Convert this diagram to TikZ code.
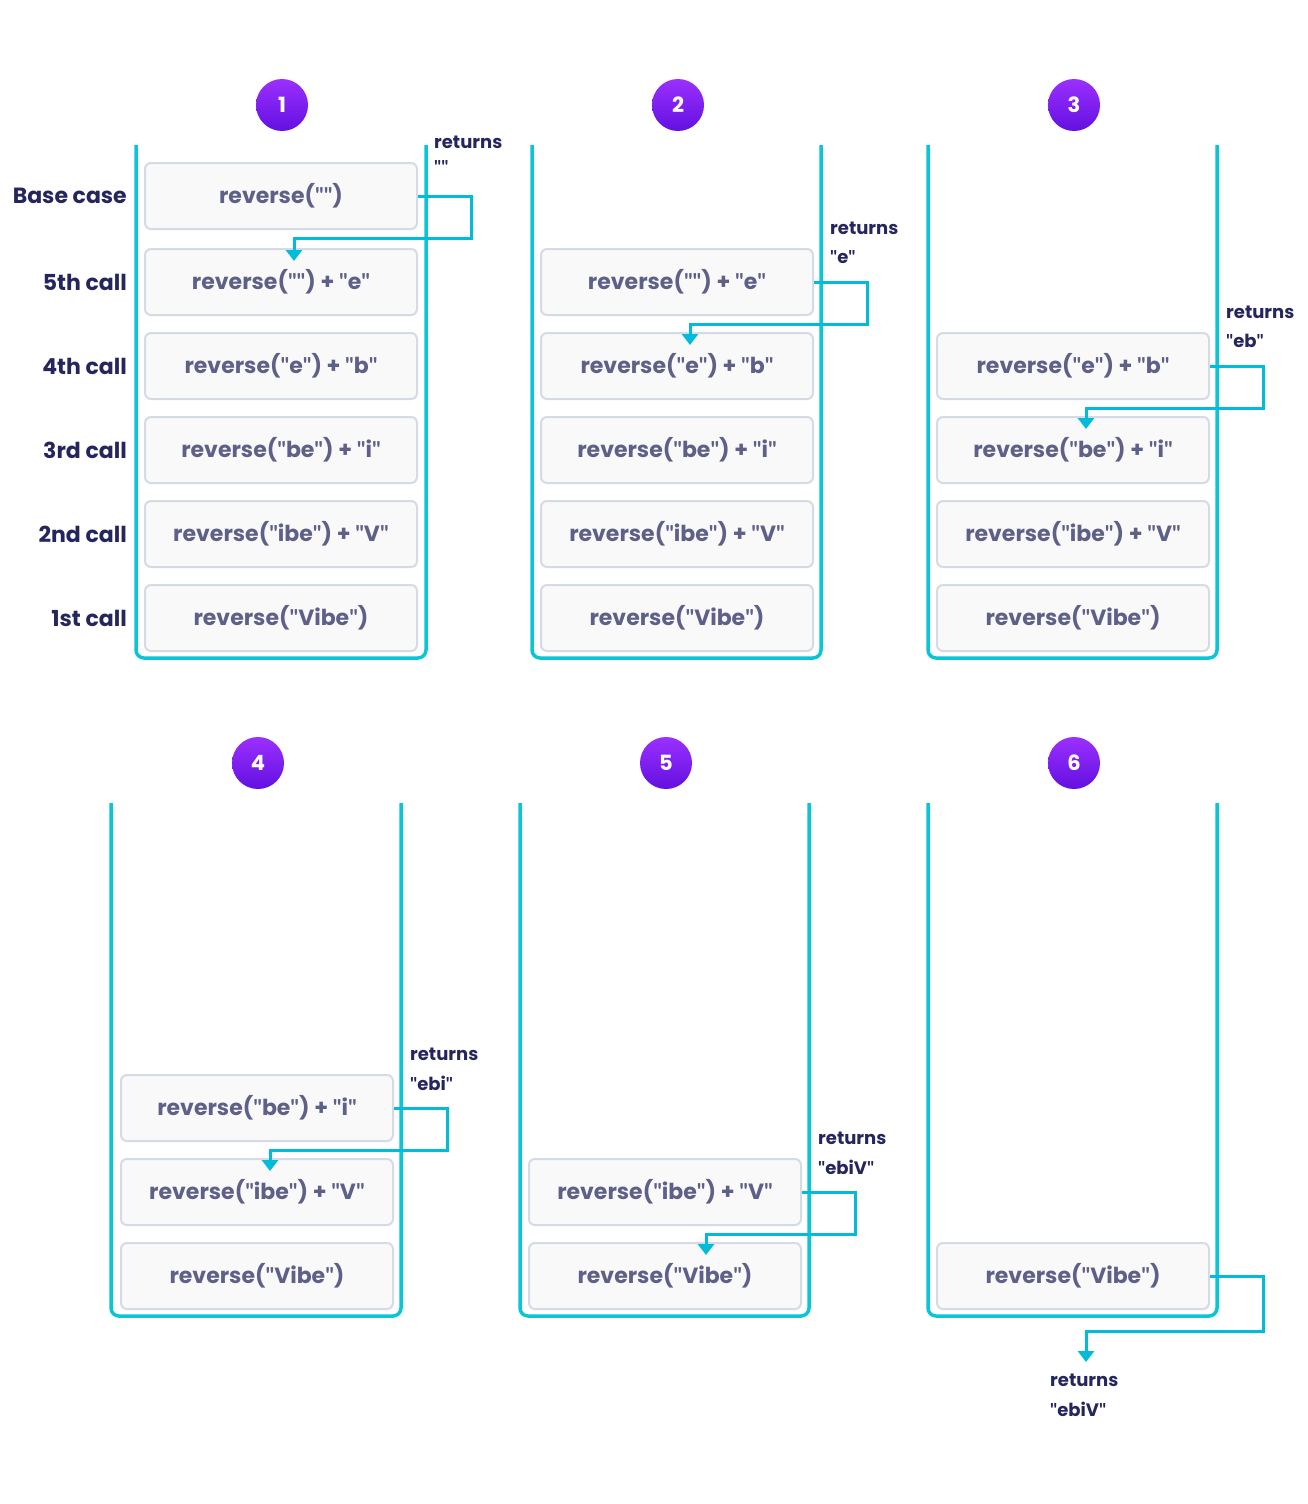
\documentclass[tikz,border=0pt]{standalone}
\usepackage{fontspec}
\setmainfont{Poppins}
\newfontfamily\quotefont{Lato}
\newcommand\Q{{\quotefont\char"0022}}
\usetikzlibrary{arrows.meta}
\definecolor{cyanline}{HTML}{08C6D6}
\definecolor{retline}{HTML}{00BCD8}
\definecolor{navy}{HTML}{25265E}
\definecolor{boxtext}{HTML}{5F6088}
\definecolor{boxfill}{HTML}{F9F9FA}
\definecolor{boxedge}{HTML}{D5DBE5}
\definecolor{purpletop}{HTML}{9B30FF}
\definecolor{purplebot}{HTML}{6210E0}
\tikzset{
  frame/.style={draw=boxedge, fill=boxfill, line width=2pt, rounded corners=6pt,
    minimum width=272pt, minimum height=66pt, inner sep=0pt,
    font=\fontsize{22}{25}\selectfont\bfseries, text=boxtext},
  stack/.style={draw=cyanline, line width=3.5pt, rounded corners=8pt},
  ret/.style={draw=retline, line width=3pt, -{Triangle[width=16pt,length=11pt]}},
  badge/.style={circle, minimum size=52pt, inner sep=0pt, top color=purpletop,
    bottom color=purplebot, draw=none, text=white, font=\fontsize{21}{24}\selectfont\bfseries},
  calllabel/.style={anchor=east, text=navy, font=\fontsize{22}{25}\selectfont\bfseries, inner sep=0pt},
  retlabel/.style={anchor=west, text=navy, font=\fontsize{18}{21}\selectfont\bfseries, inner sep=0pt},
}
\begin{document}
\begin{tikzpicture}[x=1pt, y=-1pt]
\useasboundingbox (0,0) rectangle (1308,1504);

% ---------- panel 1 ----------
\node[badge] (n1) at (282,105) {1};
\draw[stack] (136,145) -- (136,658) -- (426,658) -- (426,145);
\node[frame] (p1a) at (281,196) {reverse(\Q\Q)};
\node[frame] (p1b) at (281,282) {reverse(\Q\Q) + \Q e\Q};
\node[frame] (p1c) at (281,366) {reverse(\Q e\Q) + \Q b\Q};
\node[frame] (p1d) at (281,450) {reverse(\Q be\Q) + \Q i\Q};
\node[frame] (p1e) at (281,534) {reverse(\Q ibe\Q) + \Q V\Q};
\node[frame] (p1f) at (281,618) {reverse(\Q Vibe\Q)};
\node[calllabel] (l1) at (127,196) {Base case};
\node[calllabel] (l2) at (127,282) {5th call};
\node[calllabel] (l3) at (127,366) {4th call};
\node[calllabel] (l4) at (127,450) {3rd call};
\node[calllabel] (l5) at (127,534) {2nd call};
\node[calllabel] (l6) at (127,618) {1st call};
\draw[ret] (p1a.east) -| ++(53,42) -| ([xshift=13pt,yshift=-13pt]p1b.north);
\node[retlabel] (r1a) at (434,142) {returns};
\node[retlabel] (r1b) at (434,167) {\Q\Q};

% ---------- panel 2 ----------
\node[badge] (n2) at (678,105) {2};
\draw[stack] (532,145) -- (532,658) -- (821,658) -- (821,145);
\node[frame] (p2b) at (677,282) {reverse(\Q\Q) + \Q e\Q};
\node[frame] (p2c) at (677,366) {reverse(\Q e\Q) + \Q b\Q};
\node[frame] (p2d) at (677,450) {reverse(\Q be\Q) + \Q i\Q};
\node[frame] (p2e) at (677,534) {reverse(\Q ibe\Q) + \Q V\Q};
\node[frame] (p2f) at (677,618) {reverse(\Q Vibe\Q)};
\draw[ret] (p2b.east) -| ++(53,42) -| ([xshift=13pt,yshift=-13pt]p2c.north);
\node[retlabel] (r2a) at (830,228) {returns};
\node[retlabel] (r2b) at (830,257) {\Q e\Q};

% ---------- panel 3 ----------
\node[badge] (n3) at (1074,105) {3};
\draw[stack] (928,145) -- (928,658) -- (1217,658) -- (1217,145);
\node[frame] (p3c) at (1073,366) {reverse(\Q e\Q) + \Q b\Q};
\node[frame] (p3d) at (1073,450) {reverse(\Q be\Q) + \Q i\Q};
\node[frame] (p3e) at (1073,534) {reverse(\Q ibe\Q) + \Q V\Q};
\node[frame] (p3f) at (1073,618) {reverse(\Q Vibe\Q)};
\draw[ret] (p3c.east) -| ++(53,42) -| ([xshift=13pt,yshift=-13pt]p3d.north);
\node[retlabel] (r3a) at (1226,312) {returns};
\node[retlabel] (r3b) at (1226,341) {\Q eb\Q};

% ---------- panel 4 ----------
\node[badge] (n4) at (258,763) {4};
\draw[stack] (111,803) -- (111,1316) -- (401,1316) -- (401,803);
\node[frame] (p4d) at (257,1108) {reverse(\Q be\Q) + \Q i\Q};
\node[frame] (p4e) at (257,1192) {reverse(\Q ibe\Q) + \Q V\Q};
\node[frame] (p4f) at (257,1276) {reverse(\Q Vibe\Q)};
\draw[ret] (p4d.east) -| ++(53,42) -| ([xshift=13pt,yshift=-13pt]p4e.north);
\node[retlabel] (r4a) at (410,1054) {returns};
\node[retlabel] (r4b) at (410,1083) {\Q ebi\Q};

% ---------- panel 5 ----------
\node[badge] (n5) at (666,763) {5};
\draw[stack] (520,803) -- (520,1316) -- (809,1316) -- (809,803);
\node[frame] (p5e) at (665,1192) {reverse(\Q ibe\Q) + \Q V\Q};
\node[frame] (p5f) at (665,1276) {reverse(\Q Vibe\Q)};
\draw[ret] (p5e.east) -| ++(53,42) -| ([xshift=41pt,yshift=-13pt]p5f.north);
\node[retlabel] (r5a) at (818,1138) {returns};
\node[retlabel] (r5b) at (818,1167) {\Q ebiV\Q};

% ---------- panel 6 ----------
\node[badge] (n6) at (1074,763) {6};
\draw[stack] (928,803) -- (928,1316) -- (1217,1316) -- (1217,803);
\node[frame] (p6f) at (1073,1276) {reverse(\Q Vibe\Q)};
\coordinate (out6) at (1086,1362);
\draw[ret] (p6f.east) -| ++(53,55) -| (out6);
\node[retlabel] (r6a) at (1050,1380) {returns};
\node[retlabel] (r6b) at (1050,1409) {\Q ebiV\Q};
\end{tikzpicture}
\end{document}
